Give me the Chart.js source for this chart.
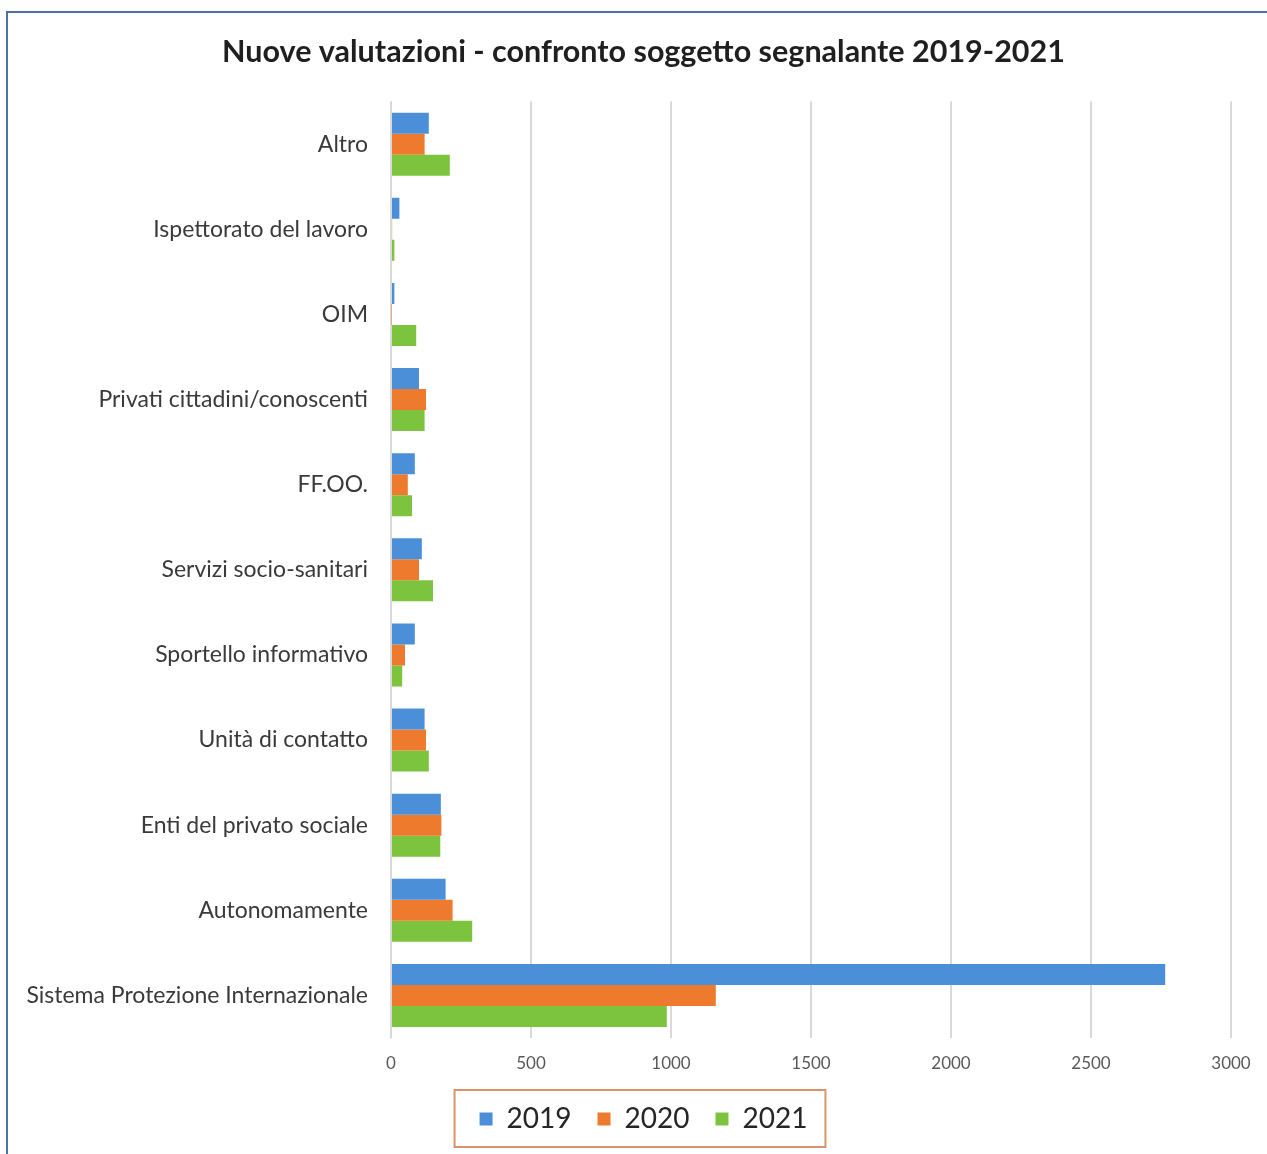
<!DOCTYPE html>
<html lang="it">
<head>
    <meta charset="UTF-8">
    <title>Nuove valutazioni - confronto soggetto segnalante</title>
    <script src="https://cdn.jsdelivr.net/npm/chart.js"></script>
    <style>
        html, body { margin: 0; padding: 0; background: #fff; }
        #wrap { width: 1267px; height: 1154px; position: relative; }
    </style>
</head>
<body>
    <div id="wrap">
        <canvas id="graficoSegnalanti"></canvas>
    </div>

    <script>
        // Soggetti segnalanti (dall'alto verso il basso)
        const categorie = [
            'Altro',
            'Ispettorato del lavoro',
            'OIM',
            'Privati cittadini/conoscenti',
            'FF.OO.',
            'Servizi socio-sanitari',
            'Sportello informativo',
            'Unità di contatto',
            'Enti del privato sociale',
            'Autonomamente',
            'Sistema Protezione Internazionale'
        ];

        // Nuove valutazioni per anno
        const valori2019 = [135, 30, 12, 100, 85, 110, 85, 120, 178, 195, 2765];
        const valori2020 = [120, 4, 2, 125, 60, 100, 50, 125, 180, 220, 1160];
        const valori2021 = [210, 12, 90, 120, 75, 150, 40, 135, 176, 290, 985];

        const anni = ['2019', '2020', '2021'];
        const colori = ['#4a8fd8', '#ee7a2e', '#7cc43e'];

        // cornice blu in alto e a sinistra
        const cornice = {
            id: 'cornice',
            beforeDraw(chart) {
                const ctx = chart.ctx;
                ctx.save();
                ctx.fillStyle = '#fff';
                ctx.fillRect(0, 0, chart.width, chart.height);
                ctx.strokeStyle = '#4f6fb3';
                ctx.lineWidth = 2;
                ctx.beginPath();
                ctx.moveTo(7, chart.height);
                ctx.lineTo(7, 12);
                ctx.lineTo(chart.width, 12);
                ctx.stroke();
                ctx.restore();
            }
        };

        // legenda: spazio orizzontale largo ma altezza ridotta, con bordo arancio
        const bordoLegenda = {
            id: 'bordoLegenda',
            beforeInit(chart) {
                const legenda = chart.legend;
                const fitOrig = legenda.fit;
                legenda.fit = function () {
                    fitOrig.call(this);
                    this.height = 75;
                };
            },
            afterDraw(chart) {
                const legenda = chart.legend;
                if (!legenda || !legenda.legendHitBoxes.length) return;
                const boxes = legenda.legendHitBoxes;
                const primo = boxes[0];
                const ultimo = boxes[boxes.length - 1];
                const sx = primo.left - 25;
                const dx = ultimo.left + ultimo.width + 18;
                const alto = primo.top - 15;
                const basso = primo.top + primo.height + 14;
                const ctx = chart.ctx;
                ctx.save();
                ctx.strokeStyle = '#d9946a';
                ctx.lineWidth = 2;
                ctx.strokeRect(sx, alto, dx - sx, basso - alto);
                ctx.restore();
            }
        };

        const serie = [valori2019, valori2020, valori2021];

        new Chart(document.getElementById('graficoSegnalanti'), {
            type: 'bar',
            data: {
                labels: categorie,
                datasets: serie.map((dati, i) => ({
                    label: anni[i],
                    data: dati,
                    backgroundColor: colori[i],
                    barPercentage: 1,
                    categoryPercentage: 0.74
                }))
            },
            options: {
                indexAxis: 'y',
                responsive: true,
                maintainAspectRatio: false,
                animation: false,
                layout: {
                    padding: { top: 14, left: 56, right: 36, bottom: 0 }
                },
                plugins: {
                    title: {
                        display: true,
                        text: 'Nuove valutazioni - confronto soggetto segnalante 2019-2021',
                        color: '#1f1f1f',
                        font: { family: 'Lato', size: 30.5, weight: 'bold' },
                        padding: { top: 20, bottom: 31 }
                    },
                    legend: {
                        position: 'bottom',
                        labels: {
                            color: '#262626',
                            font: { family: 'Lato', size: 28 },
                            boxWidth: 13,
                            boxHeight: 13,
                            padding: 26
                        }
                    },
                    tooltip: { enabled: false }
                },
                scales: {
                    x: {
                        min: 0,
                        max: 3000,
                        ticks: {
                            stepSize: 500,
                            color: '#595959',
                            font: { family: 'Lato', size: 17 },
                            padding: 15,
                            callback: (v) => String(v)
                        },
                        grid: {
                            color: '#d9d9d9',
                            lineWidth: 2,
                            drawTicks: false
                        },
                        border: { display: false },
                        afterFit(scale) { scale.height = 41; }
                    },
                    y: {
                        ticks: {
                            color: '#3a3a3a',
                            font: { family: 'Lato', size: 23 },
                            padding: 23
                        },
                        grid: { display: false, drawTicks: false },
                        border: { color: '#d9d9d9', width: 1 },
                        afterFit(scale) {
                            scale.width = 335;
                            // le etichette lunghe escono a sinistra dell'asse: niente ritaglio
                            scale._computeLabelArea = () => null;
                        }
                    }
                }
            },
            plugins: [cornice, bordoLegenda]
        });
    </script>
</body>
</html>
